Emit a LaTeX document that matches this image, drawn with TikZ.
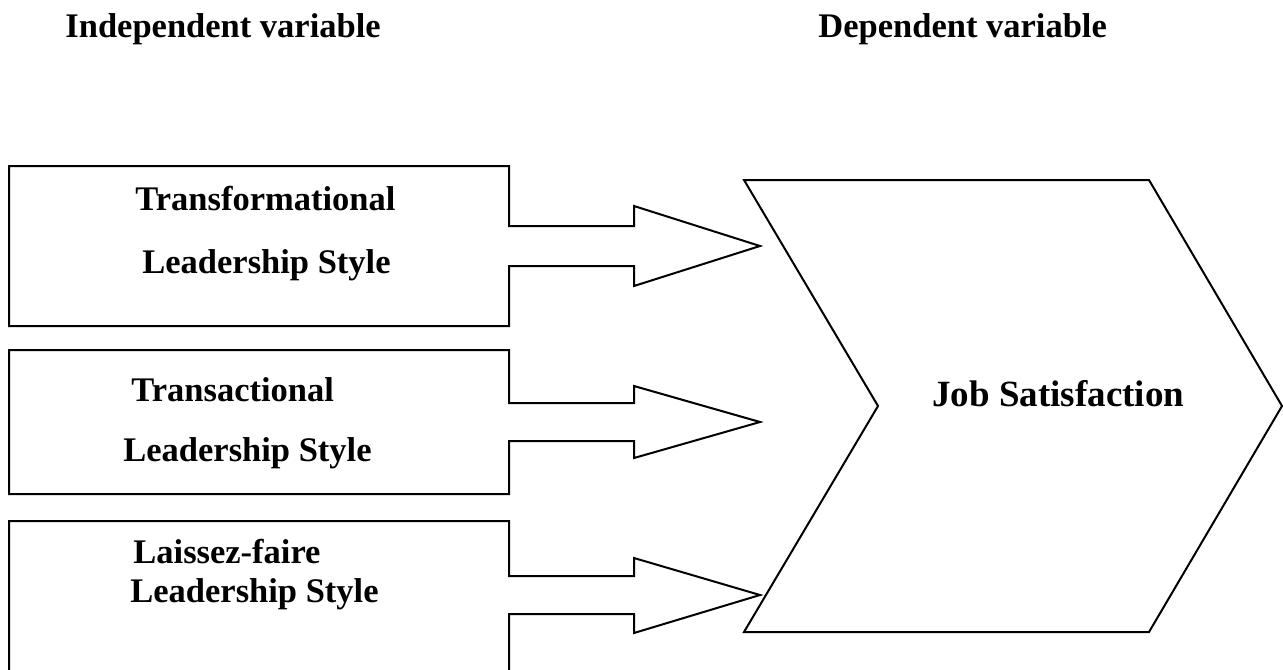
\documentclass[tikz,border=0pt]{standalone}
\usepackage{fontspec}
\setmainfont{Liberation Serif}
\usepackage{tikz}

\tikzset{
  varlabel/.style={anchor=base west, inner sep=0pt, font=\bfseries\fontsize{17.25}{20}\selectfont},
  blockline/.style={draw=black, line width=1pt, line join=miter}
}

\begin{document}
\begin{tikzpicture}[x=0.5pt, y=-0.5pt]
                    \useasboundingbox (0,0) rectangle (1283,669);
                    % headings
                    \node[varlabel] (indep) at (65,37) {Independent variable};
                    \node[varlabel] (dep) at (818,37) {Dependent variable};
                    % boxes with block arrows
                    \draw[blockline] (9,166) -- (509,166) -- (509,226) -- (634,226) -- (634,206) -- (760,246)
                        -- (634,286) -- (634,266) -- (509,266) -- (509,326) -- (9,326) -- cycle;
                    \draw[blockline] (9,350) -- (509,350) -- (509,403) -- (634,403) -- (634,386) -- (760,422)
                        -- (634,458) -- (634,441) -- (509,441) -- (509,494) -- (9,494) -- cycle;
                    \draw[blockline] (9,680) -- (9,521) -- (509,521) -- (509,576) -- (634,576) -- (634,558) -- (760,595)
                        -- (634,633) -- (634,614) -- (509,614) -- (509,680);
                    \node[varlabel] (trf) at (135,210) {Transformational};
                    \node[varlabel] (trfstyle) at (142,273) {Leadership Style};
                    \node[varlabel] (trs) at (131,401) {Transactional};
                    \node[varlabel] (trsstyle) at (123,461) {Leadership Style};
                    \node[varlabel] (lf) at (133,563) {Laissez-faire};
                    \node[varlabel] (lfstyle) at (130,602) {Leadership Style};
                    % chevron
                    \draw[blockline] (744,180) -- (1149,180) -- (1282,406) -- (1149,632) -- (744,632) -- (878,406) -- cycle;
                    \node[varlabel, font=\bfseries\fontsize{18.5}{22}\selectfont] (js) at (932,406) {Job Satisfaction};
                \end{tikzpicture}
\end{document}
